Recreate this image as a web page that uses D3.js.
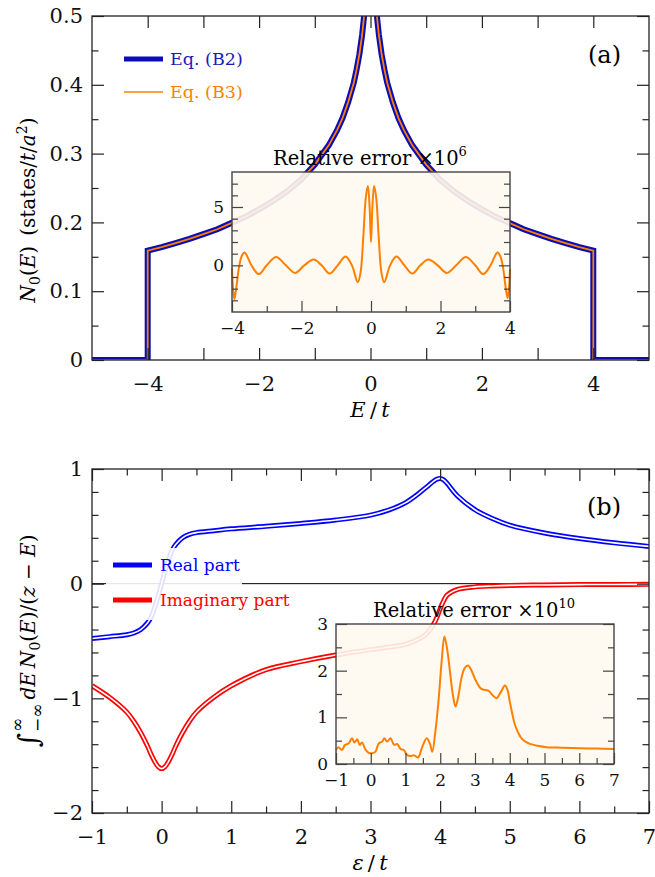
<!DOCTYPE html>
<html>
<head>
<meta charset="utf-8">
<script src="https://cdn.jsdelivr.net/npm/d3@7"></script>
<style>
body { margin: 0; background: #fff; }
svg { display: block; font-family: "DejaVu Serif", serif; }
</style>
</head>
<body>
<svg id="fig" width="655" height="877"></svg>
<script>
// ---- panel (a): density of states ----
var dosE = [-5, -4, -4, -3.75, -3.5, -3.25, -3, -2.75, -2.5, -2.25, -2, -1.75, -1.5, -1.25, -1, -0.75, -0.6, -0.5, -0.4, -0.3, -0.25, -0.2, -0.15, -0.12, -0.1, -0.08,
            0.08, 0.1, 0.12, 0.15, 0.2, 0.25, 0.3, 0.4, 0.5, 0.6, 0.75, 1, 1.25, 1.5, 1.75, 2, 2.25, 2.5, 2.75, 3, 3.25, 3.5, 3.75, 4, 4, 5];
var dosN = [0, 0, 0.159, 0.164, 0.170, 0.176, 0.183, 0.190, 0.199, 0.208, 0.219, 0.231, 0.245, 0.262, 0.284, 0.312, 0.334, 0.352, 0.375, 0.403, 0.422, 0.444, 0.473, 0.496, 0.514, 0.537,
            0.537, 0.514, 0.496, 0.473, 0.444, 0.422, 0.403, 0.375, 0.352, 0.334, 0.312, 0.284, 0.262, 0.245, 0.231, 0.219, 0.208, 0.199, 0.190, 0.183, 0.176, 0.170, 0.164, 0.159, 0, 0];

// inset (a): relative error x 1e6
var errAx = [-4, -3.97, -3.93, -3.88, -3.8, -3.72, -3.64, -3.55, -3.44, -3.23, -3.0, -2.73, -2.45, -2.18, -1.92, -1.65, -1.42, -1.19, -0.96, -0.73, -0.55, -0.38, -0.3, -0.22, -0.15, -0.09, -0.04, 0,
             0.04, 0.09, 0.15, 0.22, 0.3, 0.38, 0.55, 0.73, 0.96, 1.19, 1.42, 1.65, 1.92, 2.18, 2.45, 2.73, 3.0, 3.23, 3.44, 3.55, 3.64, 3.72, 3.8, 3.88, 3.93, 3.97, 4];
var errAy = [-0.2, -2.0, -2.9, -2.0, -0.2, 0.8, 1.1, 0.7, 0.0, -0.75, 0.0, 0.72, 0.0, -0.65, 0.0, 0.5, 0.0, -0.7, 0.0, 0.75, 0.0, -1.45, -0.6, 2.5, 5.8, 6.8, 5.0, 2.0,
             5.0, 6.8, 5.8, 2.5, -0.6, -1.45, 0.0, 0.75, 0.0, -0.7, 0.0, 0.5, 0.0, -0.65, 0.0, 0.72, 0.0, -0.75, 0.0, 0.7, 1.1, 0.8, -0.2, -2.0, -2.8, -2.0, -0.3];

// ---- panel (b): real and imaginary part ----
var eps = [-1, -0.75, -0.5, -0.4, -0.3, -0.2, -0.15, -0.1, -0.05, 0, 0.05, 0.1, 0.15, 0.2, 0.3, 0.4, 0.5, 0.75, 1, 1.5, 2, 2.5, 3, 3.25, 3.5, 3.7, 3.8, 3.9, 3.95, 4, 4.05, 4.1, 4.25, 4.5, 4.75, 5, 5.5, 6, 6.5, 7];
var reG = [-0.478, -0.462, -0.445, -0.43, -0.40, -0.34, -0.29, -0.21, -0.11, 0, 0.11, 0.21, 0.29, 0.34, 0.40, 0.43, 0.445, 0.462, 0.478, 0.50, 0.525, 0.555, 0.598, 0.64, 0.705, 0.79, 0.84, 0.89, 0.91, 0.918, 0.905, 0.875, 0.765, 0.645, 0.568, 0.51, 0.442, 0.394, 0.356, 0.325];
var imG = [-0.89, -0.99, -1.12, -1.20, -1.30, -1.42, -1.49, -1.55, -1.595, -1.613, -1.595, -1.55, -1.49, -1.42, -1.30, -1.20, -1.12, -0.99, -0.89, -0.75, -0.68, -0.622, -0.575, -0.555, -0.53, -0.48, -0.44, -0.36, -0.30, -0.22, -0.15, -0.10, -0.05, -0.028, -0.02, -0.015, -0.011, -0.008, -0.007, -0.006];

// inset (b): relative error x 1e10
var errBx = [-1, -0.93, -0.83, -0.74, -0.64, -0.54, -0.47, -0.39, -0.32, -0.25, -0.16, -0.06, 0.04, 0.13, 0.23, 0.33, 0.39, 0.47, 0.57, 0.67, 0.76, 0.86, 0.95, 1.05, 1.15, 1.24, 1.36, 1.48, 1.61, 1.70, 1.77,
             1.86, 1.95, 2.04, 2.12, 2.2, 2.28, 2.36, 2.44, 2.52, 2.61, 2.7, 2.8, 2.9, 2.99, 3.18, 3.38, 3.5, 3.62, 3.75, 3.86, 3.93, 4.0, 4.08, 4.15, 4.25, 4.34, 4.45, 4.58, 4.8, 5.06, 5.5, 6.02, 6.5, 7.0];
var errBy = [0.30, 0.36, 0.30, 0.41, 0.44, 0.55, 0.46, 0.53, 0.41, 0.46, 0.32, 0.24, 0.23, 0.26, 0.44, 0.48, 0.55, 0.48, 0.55, 0.41, 0.43, 0.32, 0.30, 0.19, 0.17, 0.19, 0.14, 0.36, 0.55, 0.44, 0.26,
             0.70, 1.35, 2.2, 2.73, 2.45, 1.98, 1.5, 1.23, 1.45, 1.84, 2.05, 2.11, 2.0, 1.84, 1.61, 1.57, 1.48, 1.41, 1.55, 1.68, 1.6, 1.34, 1.05, 0.84, 0.66, 0.55, 0.48, 0.43, 0.39, 0.36, 0.35, 0.34, 0.33, 0.32];

// tick values
var aXTicks = [-4, -3, -2, -1, 0, 1, 2, 3, 4];
var aYMajor = [0, 0.1, 0.2, 0.3, 0.4, 0.5];
var aYMinor = [0.05, 0.15, 0.25, 0.35, 0.45];
var bXMajor = [-1, 0, 1, 2, 3, 4, 5, 6, 7];
var bXMinor = [-0.5, 0.5, 1.5, 2.5, 3.5, 4.5, 5.5, 6.5];
var bYMajor = [-2, -1, 0, 1];
var bYMinor = [-1.8, -1.6, -1.4, -1.2, -0.8, -0.6, -0.4, -0.2, 0.2, 0.4, 0.6, 0.8];
var iaXMajor = [-4, -2, 0, 2, 4];
var iaXMinor = [-3, -1, 1, 3];
var iaYMajor = [0, 5];
var iaYMinor = [-3, -2, -1, 1, 2, 3, 4, 6, 7];
var ibXMajor = [-1, 0, 1, 2, 3, 4, 5, 6, 7];
var ibXMinor = [-0.5, 0.5, 1.5, 2.5, 3.5, 4.5, 5.5, 6.5];
var ibYMajor = [0, 1, 2, 3];
var ibYMinor = [0.5, 1.5, 2.5];

var svg = d3.select("#fig");
svg.append("rect").attr("width", 655).attr("height", 877).attr("fill", "#fff");

var xA = d3.scaleLinear().domain([-5, 5]).range([92, 649]);
var yA = d3.scaleLinear().domain([0, 0.5]).range([360, 16]);
var xB = d3.scaleLinear().domain([-1, 7]).range([92, 649]);
var yB = d3.scaleLinear().domain([-2, 1]).range([813, 469]);
var xIa = d3.scaleLinear().domain([-4, 4]).range([232, 510]);
var yIa = d3.scaleLinear().domain([-4, 8]).range([312, 172]);
var xIb = d3.scaleLinear().domain([-1, 7]).range([336, 614]);
var yIb = d3.scaleLinear().domain([0, 3]).range([764, 624]);

var fmt = d3.format("");
var zip = function (xs, ys) { return xs.map(function (v, i) { return [v, ys[i]]; }); };

var defs = svg.append("defs");
defs.append("clipPath").attr("id", "clipA").append("rect")
    .attr("x", 92).attr("y", 16).attr("width", 557).attr("height", 344);
defs.append("clipPath").attr("id", "clipB").append("rect")
    .attr("x", 92).attr("y", 469).attr("width", 557).attr("height", 344);

// ticks drawn with d3 axes, pointing inwards
function ticks(g, x, y, o) {
    var x0 = x.range()[0], x1 = x.range()[1], yb = y.range()[0], yt = y.range()[1];
    var clean = function (sel) { sel.select(".domain").remove(); sel.selectAll(".tick line").attr("stroke", o.col).attr("stroke-width", 1.2); };
    var lab = function (sel, size) { sel.selectAll(".tick text").attr("fill", "#111").style("font-family", "DejaVu Serif").style("font-size", size + "px"); };
    var bot = g.append("g").attr("transform", "translate(0," + yb + ")")
        .call(d3.axisBottom(x).tickValues(o.xMajor).tickSize(-o.big).tickPadding(o.xPad).tickFormat(o.xFmt));
    clean(bot); lab(bot, o.fs);
    g.append("g").attr("transform", "translate(0," + yb + ")")
        .call(d3.axisBottom(x).tickValues(o.xMinor).tickSize(-o.small).tickFormat("")).call(clean);
    var lft = g.append("g").attr("transform", "translate(" + x0 + ",0)")
        .call(d3.axisLeft(y).tickValues(o.yMajor).tickSize(-o.big).tickPadding(o.yPad).tickFormat(o.yFmt));
    clean(lft); lab(lft, o.fs);
    g.append("g").attr("transform", "translate(" + x0 + ",0)")
        .call(d3.axisLeft(y).tickValues(o.yMinor).tickSize(-o.small).tickFormat("")).call(clean);
    g.append("g").attr("transform", "translate(" + x1 + ",0)")
        .call(d3.axisRight(y).tickValues(o.yMajor).tickSize(-o.big).tickFormat("")).call(clean);
    g.append("g").attr("transform", "translate(" + x1 + ",0)")
        .call(d3.axisRight(y).tickValues(o.yMinor).tickSize(-o.small).tickFormat("")).call(clean);
    if (o.top) {
        g.append("g").attr("transform", "translate(0," + yt + ")")
            .call(d3.axisTop(x).tickValues(o.xMajor).tickSize(-o.big).tickFormat("")).call(clean);
        g.append("g").attr("transform", "translate(0," + yt + ")")
            .call(d3.axisTop(x).tickValues(o.xMinor).tickSize(-o.small).tickFormat("")).call(clean);
    }
    g.append("rect").attr("x", x0).attr("y", yt).attr("width", x1 - x0).attr("height", yb - yt)
        .attr("fill", "none").attr("stroke", o.col).attr("stroke-width", o.sw);
}

// ================= panel (a) =================
var gA = svg.append("g");
var lineA = d3.line().x(function (d) { return xA(d[0]); }).y(function (d) { return yA(d[1]); });
var dos = zip(dosE, dosN);
var curvesA = gA.append("g").attr("clip-path", "url(#clipA)");
curvesA.append("path").attr("d", lineA(dos)).attr("fill", "none")
    .attr("stroke", "#0c0cb4").attr("stroke-width", 6).attr("stroke-linejoin", "miter");
curvesA.append("path").attr("d", lineA(dos)).attr("fill", "none")
    .attr("stroke", "#ff8000").attr("stroke-width", 1.8);

// legend (a)
gA.append("line").attr("x1", 124).attr("x2", 163).attr("y1", 59).attr("y2", 59)
    .attr("stroke", "#0c0cb4").attr("stroke-width", 5);
gA.append("text").attr("x", 170).attr("y", 65).attr("fill", "#1a1ab4").style("font-size", "17.5px").text("Eq. (B2)");
gA.append("line").attr("x1", 124).attr("x2", 163).attr("y1", 92).attr("y2", 92)
    .attr("stroke", "#ff8000").attr("stroke-width", 1.5);
gA.append("text").attr("x", 170).attr("y", 98).attr("fill", "#ff8000").style("font-size", "17.5px").text("Eq. (B3)");

// inset (a)
var gIa = gA.append("g");
gIa.append("rect").attr("x", 232).attr("y", 172).attr("width", 278).attr("height", 140)
    .attr("fill", "#fef8f0").attr("fill-opacity", 0.9);
var lineIa = d3.line().curve(d3.curveCatmullRom).x(function (d) { return xIa(d[0]); }).y(function (d) { return yIa(d[1]); });
gIa.append("path").attr("d", lineIa(zip(errAx, errAy))).attr("fill", "none")
    .attr("stroke", "#ff8000").attr("stroke-width", 2);
ticks(gIa, xIa, yIa, {
    xMajor: iaXMajor, xMinor: iaXMinor, yMajor: iaYMajor, yMinor: iaYMinor,
    big: 11, small: 6, col: "#444", sw: 1.4, fs: 17, xPad: 10, yPad: 8,
    xFmt: fmt, yFmt: fmt, top: false
});
var tIa = gIa.append("text").attr("x", 370).attr("y", 165).attr("text-anchor", "middle").style("font-size", "19.5px");
tIa.append("tspan").text("Relative error \u00d710");
tIa.append("tspan").attr("dy", -9).style("font-size", "13px").text("6");

ticks(gA, xA, yA, {
    xMajor: aXTicks, xMinor: [], yMajor: aYMajor, yMinor: aYMinor,
    big: 12, small: 6.5, col: "#222", sw: 1.3, fs: 21, xPad: 16, yPad: 9,
    xFmt: function (d) { return d % 2 === 0 ? fmt(d) : ""; }, yFmt: fmt, top: true
});
gA.append("text").attr("x", 621).attr("y", 63).attr("text-anchor", "end").style("font-size", "24px").text("(a)");

// axis labels (a)
var xlA = gA.append("text").attr("x", 370).attr("y", 417).attr("text-anchor", "middle").style("font-size", "21px");
xlA.append("tspan").style("font-style", "italic").text("E");
xlA.append("tspan").text("\u2009/\u2009");
xlA.append("tspan").style("font-style", "italic").text("t");

var ylA = gA.append("text").attr("transform", "translate(35,210) rotate(-90)").attr("text-anchor", "middle").style("font-size", "20px");
ylA.append("tspan").style("font-style", "italic").text("N");
ylA.append("tspan").attr("dy", 5).style("font-size", "14px").text("0");
ylA.append("tspan").attr("dy", -5).text("(");
ylA.append("tspan").style("font-style", "italic").text("E");
ylA.append("tspan").text(")\u2002(states/");
ylA.append("tspan").style("font-style", "italic").text("t");
ylA.append("tspan").text("/");
ylA.append("tspan").style("font-style", "italic").text("a");
ylA.append("tspan").attr("dy", -8).style("font-size", "14px").text("2");
ylA.append("tspan").attr("dy", 8).text(")");

// ================= panel (b) =================
var gB = svg.append("g");
gB.append("line").attr("x1", xB(-1)).attr("x2", xB(7)).attr("y1", yB(0)).attr("y2", yB(0))
    .attr("stroke", "#000").attr("stroke-width", 1);
var lineB = d3.line().curve(d3.curveCatmullRom).x(function (d) { return xB(d[0]); }).y(function (d) { return yB(d[1]); });
var curvesB = gB.append("g").attr("clip-path", "url(#clipB)");
[[reG, "#0000ff"], [imG, "#ff0000"]].forEach(function (s) {
    var d = lineB(zip(eps, s[0]));
    curvesB.append("path").attr("d", d).attr("fill", "none").attr("stroke", s[1]).attr("stroke-width", 5);
    curvesB.append("path").attr("d", d).attr("fill", "none").attr("stroke", "#fff").attr("stroke-width", 1.6);
});

// legend (b)
gB.append("rect").attr("x", 106).attr("y", 548).attr("width", 136).attr("height", 72)
    .attr("fill", "#fff").attr("fill-opacity", 0.88);
gB.append("line").attr("x1", 113).attr("x2", 152).attr("y1", 565).attr("y2", 565)
    .attr("stroke", "#0000ff").attr("stroke-width", 5);
gB.append("text").attr("x", 160).attr("y", 571).attr("fill", "#0000ff").style("font-size", "17px").text("Real part");
gB.append("line").attr("x1", 113).attr("x2", 152).attr("y1", 600).attr("y2", 600)
    .attr("stroke", "#ff0000").attr("stroke-width", 5);
gB.append("text").attr("x", 160).attr("y", 606).attr("fill", "#ff0000").style("font-size", "17px").text("Imaginary part");

// inset (b)
var gIb = gB.append("g");
gIb.append("rect").attr("x", 336).attr("y", 624).attr("width", 278).attr("height", 140)
    .attr("fill", "#fef8f0").attr("fill-opacity", 0.9);
var lineIb = d3.line().curve(d3.curveCatmullRom).x(function (d) { return xIb(d[0]); }).y(function (d) { return yIb(d[1]); });
gIb.append("path").attr("d", lineIb(zip(errBx, errBy))).attr("fill", "none")
    .attr("stroke", "#ff8000").attr("stroke-width", 2);
ticks(gIb, xIb, yIb, {
    xMajor: ibXMajor, xMinor: ibXMinor, yMajor: ibYMajor, yMinor: ibYMinor,
    big: 11, small: 6, col: "#444", sw: 1.4, fs: 17, xPad: 10, yPad: 8,
    xFmt: fmt, yFmt: fmt, top: false
});
var tIb = gIb.append("text").attr("x", 474).attr("y", 617).attr("text-anchor", "middle").style("font-size", "19.5px");
tIb.append("tspan").text("Relative error \u00d710");
tIb.append("tspan").attr("dy", -9).style("font-size", "13px").text("10");

ticks(gB, xB, yB, {
    xMajor: bXMajor, xMinor: bXMinor, yMajor: bYMajor, yMinor: bYMinor,
    big: 12, small: 6.5, col: "#222", sw: 1.3, fs: 21, xPad: 16, yPad: 9,
    xFmt: fmt, yFmt: fmt, top: true
});
gB.append("text").attr("x", 621).attr("y", 515).attr("text-anchor", "end").style("font-size", "24px").text("(b)");

var xlB = gB.append("text").attr("x", 370).attr("y", 870).attr("text-anchor", "middle").style("font-size", "21px");
xlB.append("tspan").style("font-style", "italic").text("\u03b5");
xlB.append("tspan").text("\u2009/\u2009");
xlB.append("tspan").style("font-style", "italic").text("t");

// y label (b) with stacked integral limits
var ylB = gB.append("g").attr("transform", "translate(35,641) rotate(-90)");
var inner = ylB.append("g");
var integ = inner.append("text").attr("x", 0).attr("y", 3).style("font-size", "28px").text("\u222b");
var wI = integ.node().getComputedTextLength();
var sup = inner.append("text").attr("x", wI + 1).attr("y", -12).style("font-size", "17px").text("\u221e");
var sub = inner.append("text").attr("x", wI + 1).attr("y", 8).style("font-size", "17px").text("\u2212\u221e");
var wL = Math.max(sup.node().getComputedTextLength(), sub.node().getComputedTextLength());
var rest = inner.append("text").attr("x", wI + wL + 5).attr("y", 0).style("font-size", "20px");
rest.append("tspan").style("font-style", "italic").text("dE\u2009N");
rest.append("tspan").attr("dy", 5).style("font-size", "14px").text("0");
rest.append("tspan").attr("dy", -5).text("(");
rest.append("tspan").style("font-style", "italic").text("E");
rest.append("tspan").text(")/(");
rest.append("tspan").style("font-style", "italic").text("z");
rest.append("tspan").text(" \u2212 ");
rest.append("tspan").style("font-style", "italic").text("E");
rest.append("tspan").text(")");
var totalW = wI + wL + 5 + rest.node().getComputedTextLength();
inner.attr("transform", "translate(" + (-totalW / 2) + ",0)");
</script>
</body>
</html>
